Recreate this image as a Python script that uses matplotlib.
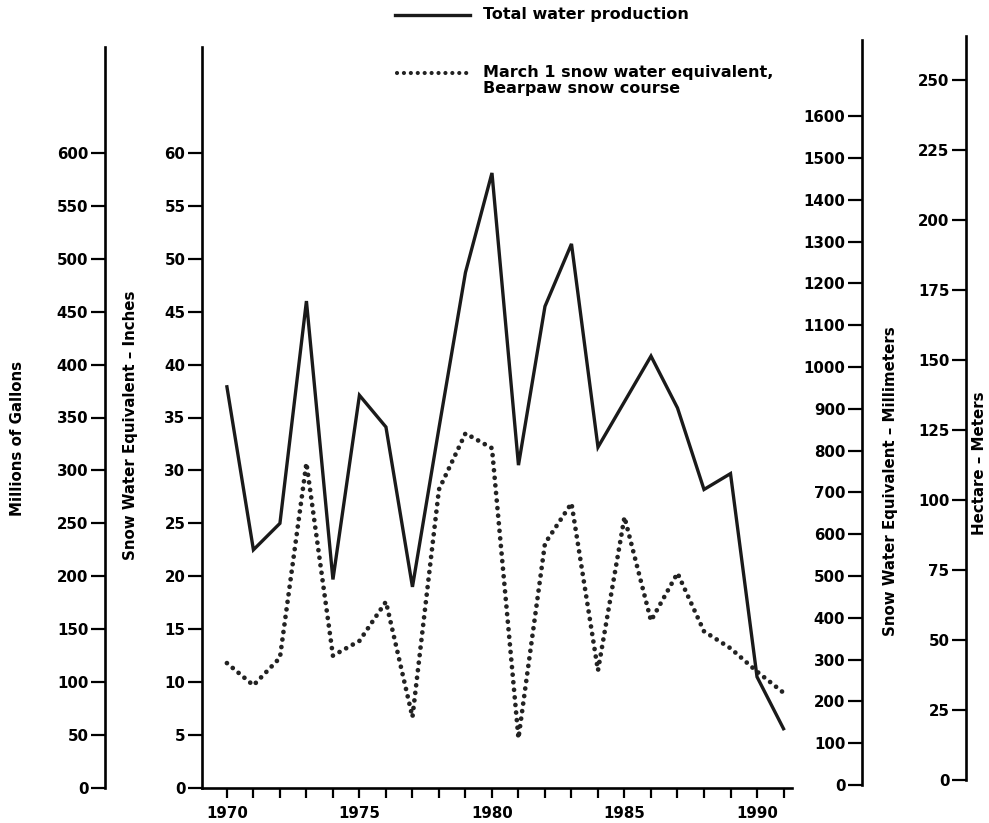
import matplotlib
matplotlib.use("Agg")
import matplotlib.pyplot as plt
from matplotlib.lines import Line2D
import numpy as np

# ---- data ----
years = [1970, 1971, 1972, 1973, 1974, 1975, 1976, 1977, 1978, 1979, 1980,
         1981, 1982, 1983, 1984, 1985, 1986, 1987, 1988, 1989, 1990, 1991]
production_mgal = [379, 225, 250, 460, 197, 371, 341, 190, 340, 487, 581,
                   305, 455, 514, 322, 365, 408, 359, 282, 297, 105, 56]
snow_in = [11.8, 9.7, 12.3, 30.7, 12.5, 13.9, 17.6, 6.7, 28.2, 33.5, 32.1,
           4.7, 23.1, 26.9, 11.1, 25.6, 15.8, 20.3, 14.8, 13.2, 11.0, 9.0]
xtick_years = list(range(1970, 1992))
xtick_labels = [str(y) if y % 5 == 0 else "" for y in xtick_years]
gal_ticks = list(range(0, 601, 50))
inch_ticks = list(range(0, 61, 5))
mm_ticks = list(range(0, 1601, 100))
ham_ticks = list(range(0, 251, 25))

W, H = 989, 823
fig = plt.figure(figsize=(W / 100, H / 100), dpi=100)
plt.rcParams['font.family'] = ['DejaVu Sans']

def fx(x):
    return x / W

def fy(y):
    return 1 - y / H

FONT = dict(fontsize=10.8, fontweight='bold')
SPW = 1.9
TKL = 10
TKW = 1.6

# main axes (inches)
L, R, B, T = 202, 792, 788, 47
ax = fig.add_axes([fx(L), fy(B), fx(R) - fx(L), fy(T) - fy(B)])
ax.set_xlim(1969.06, 1991.32)
ax.set_ylim(0, 70)
for s in ['top', 'right']:
    ax.spines[s].set_visible(False)
ax.spines['left'].set_linewidth(SPW)
ax.spines['bottom'].set_linewidth(SPW)
ax.set_yticks(inch_ticks)
ax.set_yticklabels([str(v) for v in inch_ticks], **FONT)
ax.set_xticks(xtick_years)
ax.set_xticklabels(xtick_labels, **FONT)
ax.tick_params(axis='y', direction='out', length=TKL, width=TKW, pad=2)
ax.tick_params(axis='x', direction='out', length=7, width=TKW, pad=6)

ax.plot(years, snow_in, color='#222222', linewidth=3.4,
        linestyle=(0, (0.01, 1.6)), dash_capstyle='round', solid_capstyle='round')

# gallons axis (outer left) sharing x
axg = ax.twinx()
axg.set_ylim(0, 700)
for s in ['top', 'right', 'bottom']:
    axg.spines[s].set_visible(False)
axg.spines['left'].set_visible(True)
axg.spines['left'].set_position(('axes', (105 - L) / (R - L)))
axg.spines['left'].set_linewidth(SPW)
axg.yaxis.set_ticks_position('left')
axg.yaxis.set_label_position('left')
axg.set_yticks(gal_ticks)
axg.set_yticklabels([str(v) for v in gal_ticks], **FONT)
axg.tick_params(axis='y', direction='out', length=TKL, width=TKW, pad=2)
axg.plot(years, production_mgal, color='#1a1a1a', linewidth=2.4,
         solid_joinstyle='miter')

# millimetres axis
mm_x, mm_b, mm_t = 862, 785, 40
axm = fig.add_axes([fx(mm_x), fy(mm_b), 0.001, fy(mm_t) - fy(mm_b)])
axm.set_ylim(0, (mm_b - mm_t) / 0.418)
axm.patch.set_visible(False)
for s in ['top', 'right', 'bottom']:
    axm.spines[s].set_visible(False)
axm.spines['left'].set_linewidth(SPW)
axm.set_xticks([])
axm.set_yticks(mm_ticks)
axm.set_yticklabels([str(v) for v in mm_ticks], **FONT)
axm.tick_params(axis='y', direction='out', length=TKL, width=TKW, pad=2)

# hectare-metres axis
h_x, h_b, h_t = 966, 780, 36
axh = fig.add_axes([fx(h_x), fy(h_b), 0.001, fy(h_t) - fy(h_b)])
axh.set_ylim(0, (h_b - h_t) / 2.8)
axh.patch.set_visible(False)
for s in ['top', 'right', 'bottom']:
    axh.spines[s].set_visible(False)
axh.spines['left'].set_linewidth(SPW)
axh.set_xticks([])
axh.set_yticks(ham_ticks)
axh.set_yticklabels([str(v) for v in ham_ticks], **FONT)
axh.tick_params(axis='y', direction='out', length=TKL, width=TKW, pad=2)

# axis titles
LAB = dict(fontsize=10.8, fontweight='bold', rotation=90, ha='center', va='center')
fig.text(fx(18), fy(438), 'Millions of Gallons', **LAB)
fig.text(fx(130), fy(425), 'Snow Water Equivalent \u2013 Inches', **LAB)
fig.text(fx(890), fy(481), 'Snow Water Equivalent \u2013 Millimeters', **LAB)
fig.text(fx(980), fy(463), 'Hectare \u2013 Meters', **LAB)

# legend
LEG = dict(fontsize=11.5, fontweight='bold', ha='left', va='center')
fig.add_artist(Line2D([fx(395), fx(470)], [fy(15), fy(15)], color='#1a1a1a',
                      linewidth=2.4, transform=fig.transFigure))
fig.text(fx(483), fy(15), 'Total water production', **LEG)
fig.add_artist(Line2D([fx(397), fx(468)], [fy(73), fy(73)], color='#222222',
                      linewidth=3.0, linestyle=(0, (0.01, 1.65)),
                      dash_capstyle='round', transform=fig.transFigure))
fig.text(fx(483), fy(72), 'March 1 snow water equivalent,', **LEG)
fig.text(fx(483), fy(88), 'Bearpaw snow course', **LEG)

fig.savefig('out.png', dpi=100)
